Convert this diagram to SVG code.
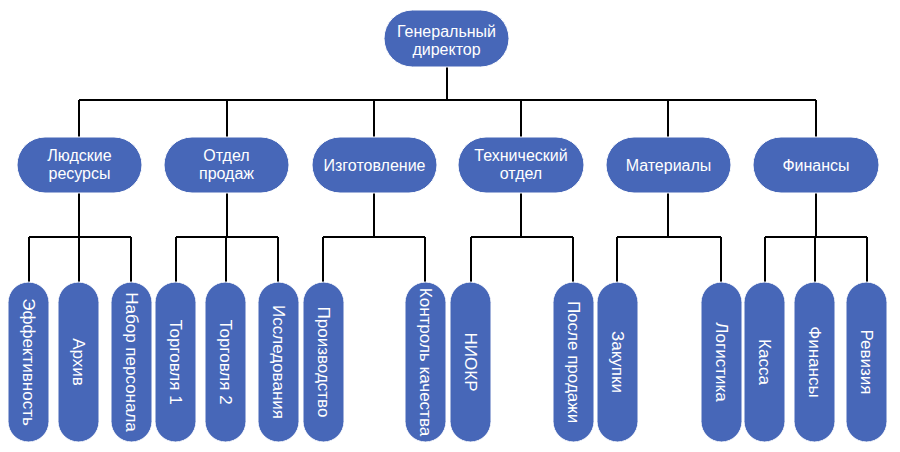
<svg xmlns="http://www.w3.org/2000/svg" width="900" height="452" viewBox="0 0 900 452">
<style>
.box{fill:#4767b8;stroke:#ffffff;stroke-width:1}
.h{font-family:"Liberation Sans",Arial,sans-serif;font-size:16px;fill:#ffffff;text-anchor:middle}
.v{font-family:"Liberation Sans",Arial,sans-serif;font-size:17px;fill:#ffffff;text-anchor:middle}
.c{fill:none;stroke:#000000;stroke-width:2}
</style>
<rect width="900" height="452" fill="#ffffff"/>
<g id="connectors" class="c">
<path d="M447 67V100M79 100H816"/>
<path d="M79 100V137M227 100V137M374 100V137M521 100V137M668 100V137M816 100V137"/>
<path d="M79 193V237M29 237H131M29 237V282M79 237V282M131 237V282"/>
<path d="M227 193V237M176 237H278M176 237V282M226 237V282M278 237V282"/>
<path d="M374 193V237M323 237H425M323 237V282M425 237V282"/>
<path d="M521 193V237M471 237H573M471 237V282M573 237V282"/>
<path d="M668 193V237M617 237H721M617 237V282M721 237V282"/>
<path d="M816 193V237M765 237H867M765 237V282M815 237V282M867 237V282"/>
</g>
<g id="ceo"><rect class="box" x="384" y="10" width="125" height="57" rx="28.5"/><text class="h" x="446.5" y="37">Генеральный</text><text class="h" x="446.5" y="55">директор</text></g>
<g id="hr"><rect class="box" x="17" y="137" width="125" height="56" rx="28"/><text class="h" x="79.5" y="161">Людские</text><text class="h" x="79.5" y="179">ресурсы</text></g>
<g id="sales"><rect class="box" x="164" y="137" width="125" height="56" rx="28"/><text class="h" x="226.5" y="161">Отдел</text><text class="h" x="226.5" y="179">продаж</text></g>
<g id="manufacturing"><rect class="box" x="312" y="137" width="125" height="56" rx="28"/><text class="h" x="374.5" y="171">Изготовление</text></g>
<g id="tech"><rect class="box" x="458" y="137" width="126" height="56" rx="28"/><text class="h" x="521" y="161">Технический</text><text class="h" x="521" y="179">отдел</text></g>
<g id="materials"><rect class="box" x="606" y="137" width="125" height="56" rx="28"/><text class="h" x="668.5" y="171">Материалы</text></g>
<g id="finance"><rect class="box" x="753" y="137" width="126" height="56" rx="28"/><text class="h" x="816" y="171">Финансы</text></g>
<g id="efficiency"><rect class="box" x="8" y="282" width="41" height="160" rx="20.5"/><text class="v" transform="translate(28.5 362) rotate(90)" dy="6">Эффективность</text></g>
<g id="archive"><rect class="box" x="58" y="282" width="41" height="160" rx="20.5"/><text class="v" transform="translate(78.5 362) rotate(90)" dy="6">Архив</text></g>
<g id="recruiting"><rect class="box" x="111" y="282" width="41" height="160" rx="20.5"/><text class="v" transform="translate(131.5 362) rotate(90)" dy="6">Набор персонала</text></g>
<g id="trade1"><rect class="box" x="155" y="282" width="41" height="160" rx="20.5"/><text class="v" transform="translate(175.5 362) rotate(90)" dy="6">Торговля 1</text></g>
<g id="trade2"><rect class="box" x="205" y="282" width="41" height="160" rx="20.5"/><text class="v" transform="translate(225.5 362) rotate(90)" dy="6">Торговля 2</text></g>
<g id="research"><rect class="box" x="258" y="282" width="41" height="160" rx="20.5"/><text class="v" transform="translate(278.5 362) rotate(90)" dy="6">Исследования</text></g>
<g id="production"><rect class="box" x="303" y="282" width="41" height="160" rx="20.5"/><text class="v" transform="translate(323.5 362) rotate(90)" dy="6">Производство</text></g>
<g id="quality"><rect class="box" x="405" y="282" width="41" height="160" rx="20.5"/><text class="v" transform="translate(425.5 362) rotate(90)" dy="6">Контроль качества</text></g>
<g id="rnd"><rect class="box" x="450" y="282" width="41" height="160" rx="20.5"/><text class="v" transform="translate(470.5 362) rotate(90)" dy="6">НИОКР</text></g>
<g id="aftersales"><rect class="box" x="553" y="282" width="41" height="160" rx="20.5"/><text class="v" transform="translate(573.5 362) rotate(90)" dy="6">После продажи</text></g>
<g id="purchasing"><rect class="box" x="597" y="282" width="41" height="160" rx="20.5"/><text class="v" transform="translate(617.5 362) rotate(90)" dy="6">Закупки</text></g>
<g id="logistics"><rect class="box" x="701" y="282" width="41" height="160" rx="20.5"/><text class="v" transform="translate(721.5 362) rotate(90)" dy="6">Логистика</text></g>
<g id="cash"><rect class="box" x="744" y="282" width="41" height="160" rx="20.5"/><text class="v" transform="translate(764.5 362) rotate(90)" dy="6">Касса</text></g>
<g id="finance2"><rect class="box" x="794" y="282" width="41" height="160" rx="20.5"/><text class="v" transform="translate(814.5 362) rotate(90)" dy="6">Финансы</text></g>
<g id="audit"><rect class="box" x="846" y="282" width="41" height="160" rx="20.5"/><text class="v" transform="translate(866.5 362) rotate(90)" dy="6">Ревизия</text></g>
</svg>
